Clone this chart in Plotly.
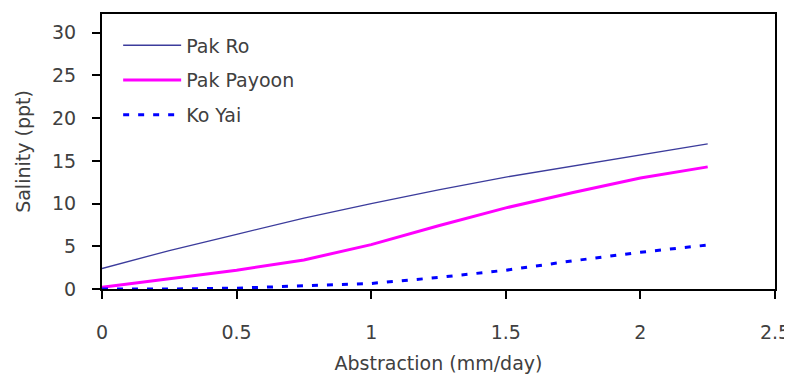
import plotly.graph_objects as go

abstraction = [0, 0.25, 0.5, 0.75, 1.0, 1.25, 1.5, 1.75, 2.0, 2.25]
pak_ro = [2.4, 4.5, 6.4, 8.3, 10.0, 11.6, 13.1, 14.4, 15.7, 17.0]
pak_payoon = [0.2, 1.2, 2.2, 3.4, 5.2, 7.4, 9.5, 11.3, 13.0, 14.3]
ko_yai = [0.0, 0.0, 0.1, 0.35, 0.65, 1.35, 2.2, 3.3, 4.3, 5.15]

x_ticks = [0, 0.5, 1, 1.5, 2, 2.5]
x_tick_labels = ["0", "0.5", "1", "1.5", "2", "2.5"]
y_ticks = [0, 5, 10, 15, 20, 25, 30]

fig = go.Figure()
fig.add_trace(go.Scatter(x=abstraction, y=pak_ro, mode="lines", name="Pak Ro",
                         legendgroup="a", line=dict(color="#3c3c9c", width=1.3)))
fig.add_trace(go.Scatter(x=abstraction, y=pak_payoon, mode="lines", name="Pak Payoon",
                         legendgroup="b", line=dict(color="#ff00ff", width=3)))
fig.add_trace(go.Scatter(x=abstraction, y=ko_yai, mode="lines", name="Ko Yai",
                         legendgroup="c", line=dict(color="#0000ff", width=3, dash="6px,9px")))

font = "DejaVu Sans, Verdana, sans-serif"
fig.update_layout(
    width=784, height=373,
    margin=dict(l=94, r=17, t=6, b=92),
    paper_bgcolor="white", plot_bgcolor="white",
    font=dict(family=font, size=19, color="#404040"),
    showlegend=True,
    legend=dict(x=0.024, y=0.955, xanchor="left", yanchor="top",
                bgcolor="rgba(0,0,0,0)", font=dict(size=19, color="#404040"),
                tracegroupgap=7, itemwidth=58),
    xaxis=dict(range=[0, 2.5], tickvals=x_ticks, ticktext=x_tick_labels,
               showgrid=False, zeroline=False, showline=True, linecolor="black",
               linewidth=2, mirror=True, ticks="outside", ticklen=8,
               tickcolor="black", tickwidth=1.5, ticklabelstandoff=17,
               automargin=False,
               title=dict(text="Abstraction (mm/day)", standoff=15,
                          font=dict(size=19, color="#404040"))),
    yaxis=dict(range=[0, 32.2], tickvals=y_ticks,
               showgrid=False, zeroline=False, showline=True, linecolor="black",
               linewidth=2, mirror=True, ticks="outside", ticklen=8,
               tickcolor="black", tickwidth=1.5, ticklabelstandoff=12,
               automargin=False,
               title=dict(text="Salinity (ppt)", standoff=16,
                          font=dict(size=19, color="#404040"))),
)

fig.write_html("out.html")
